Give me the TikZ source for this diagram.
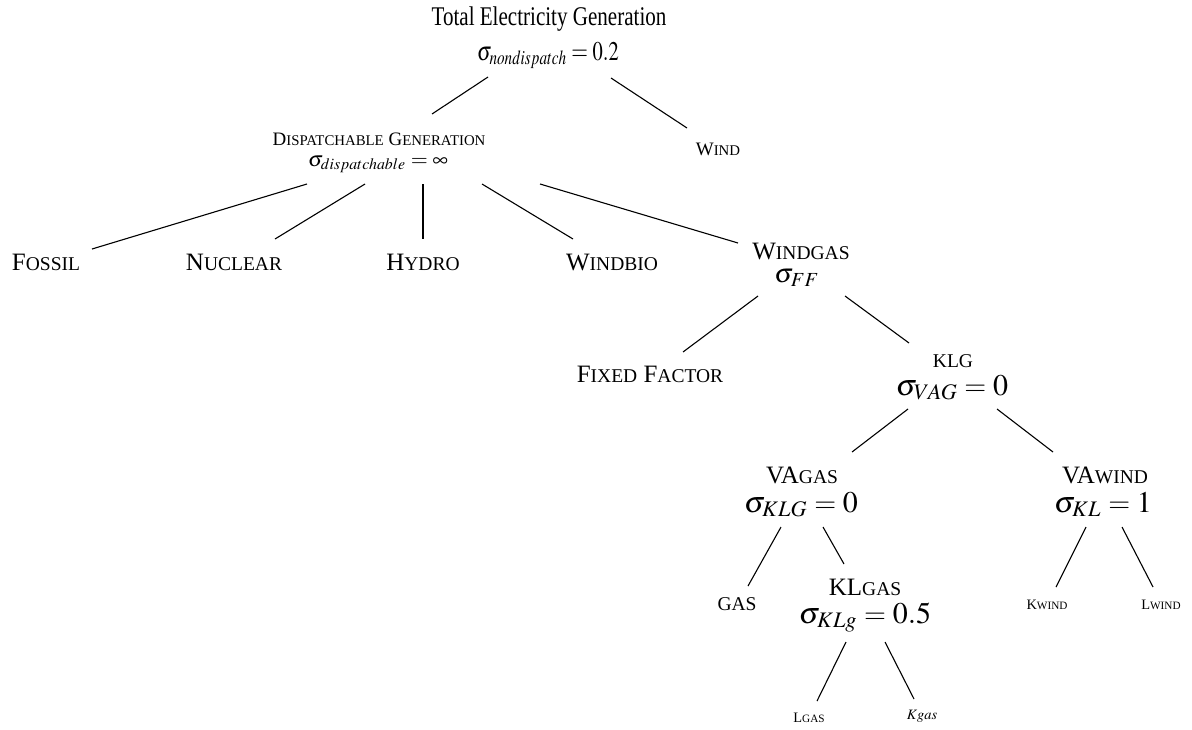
\documentclass[tikz,border=0pt]{standalone}
\usepackage{mathptmx}
\usepackage{fontspec}
\setmainfont{Liberation Serif}
\usetikzlibrary{calc}
\DeclareSymbolFont{cmeq}{OT1}{cmr}{m}{n}
\DeclareMathSymbol{=}{\mathrel}{cmeq}{"3D}
\makeatletter
\newcommand{\smc}[1]{{\fontsize{\fpeval{0.78*\f@size}}{0}\selectfont\MakeUppercase{#1}}}
\makeatother
\newcommand{\fsz}[1]{\fontsize{#1}{#1}\selectfont}
\tikzset{
  every node/.style={inner sep=0pt, anchor=base},
  rootf/.style={font=\fsz{13.5}},
  hdr/.style={font=\fsz{9.5}},
  lvl/.style={font=\fsz{12.5}},
  sig/.style={font=\fsz{15}},
  leaf/.style={font=\fsz{7.2}},
  br/.style={line width=0.55pt},
}

\begin{document}
\begin{tikzpicture}[x=0.5pt, y=-0.5pt]
\useasboundingbox (0,0) rectangle (1192,729);

% top level
\node[rootf] (total) at (549,25) {\scalebox{0.78}[1]{Total Electricity Generation}};
\node[rootf] (totalS) at (548,60) {\scalebox{0.76}[1]{$\sigma_{nondispatch} = 0.2$}};

\node[hdr] (disp) at (379,145) {D\smc{ispatchable} G\smc{eneration}};
\node[font=\fsz{10.7}] (dispS) at (378,166) {$\sigma_{dispatchable} = \infty$};
\node[hdr] (wind) at (718,155) {W\smc{ind}};

% dispatchable branch
\node[lvl] (fossil) at (46,270) {F\smc{ossil}};
\node[lvl] (nuclear) at (234,270) {N\smc{uclear}};
\node[lvl] (hydro) at (423,270) {H\smc{ydro}};
\node[lvl] (windbio) at (612,270) {W\smc{indbio}};
\node[lvl] (windgas) at (801,259) {W\smc{indgas}};
\node[font=\fsz{13.5}] (windgasS) at (797,282) {$\sigma_{FF}$};

\node[lvl] (fixed) at (650,382) {F\smc{ixed} F\smc{actor}};
\node[lvl] (klg) at (953,367) {\smc{klg}};
\node[sig] (klgS) at (952,395) {$\sigma_{VAG} = 0$};

\node[lvl] (vagas) at (802,483) {VA\smc{gas}};
\node[sig] (vagasS) at (801,512) {$\sigma_{KLG} = 0$};
\node[lvl] (vawind) at (1105,483) {VA\smc{wind}};
\node[sig] (vawindS) at (1103,512) {$\sigma_{KL} = 1$};

\node[lvl] (gas) at (737,610) {\smc{gas}};
\node[lvl] (klgas) at (865,595) {KL\smc{gas}};
\node[sig] (klgasS) at (865,623) {$\sigma_{KLg} = 0.5$};
\node[leaf] (kwind) at (1047,609) {K\smc{wind}};
\node[leaf] (lwind) at (1161,609) {L\smc{wind}};
\node[leaf] (lgas) at (809,722) {L\smc{gas}};
\node[leaf] (kgas) at (922,719) {$Kgas$};

% branches
\draw[br] ($(totalS.base)+(-60,17)$) -- ($(disp.base)+(53,-31)$);
\draw[br] ($(totalS.base)+(63,18)$) -- ($(wind.base)+(-31,-27)$);
\draw[br] ($(dispS.base)+(-71,18)$) -- ($(fossil.base)+(46,-21)$);
\draw[br] ($(dispS.base)+(-13,18)$) -- ($(nuclear.base)+(41,-31)$);
\draw[br] ($(dispS.base)+(45,18)$) -- ($(hydro.base)+(0,-31)$);
\draw[br] ($(dispS.base)+(104,18)$) -- ($(windbio.base)+(-39,-31)$);
\draw[br] ($(dispS.base)+(162,18)$) -- ($(windgas.base)+(-63,-16)$);
\draw[br] ($(windgasS.base)+(-39,14)$) -- ($(fixed.base)+(33,-30)$);
\draw[br] ($(windgasS.base)+(48,14)$) -- ($(klg.base)+(-44,-24)$);
\draw[br] ($(klgS.base)+(-44,14)$) -- ($(vagas.base)+(50,-31)$);
\draw[br] ($(klgS.base)+(45,14)$) -- ($(vawind.base)+(-52,-31)$);
\draw[br] ($(vagasS.base)+(-20,15)$) -- ($(gas.base)+(11,-24)$);
\draw[br] ($(vagasS.base)+(22,15)$) -- ($(klgas.base)+(-21,-31)$);
\draw[br] ($(vawindS.base)+(-17,15)$) -- ($(kwind.base)+(9,-22)$);
\draw[br] ($(vawindS.base)+(19,15)$) -- ($(lwind.base)+(-8,-22)$);
\draw[br] ($(klgasS.base)+(-19,19)$) -- ($(lgas.base)+(8,-21)$);
\draw[br] ($(klgasS.base)+(20,19)$) -- ($(kgas.base)+(-8,-20)$);
\end{tikzpicture}
\end{document}
